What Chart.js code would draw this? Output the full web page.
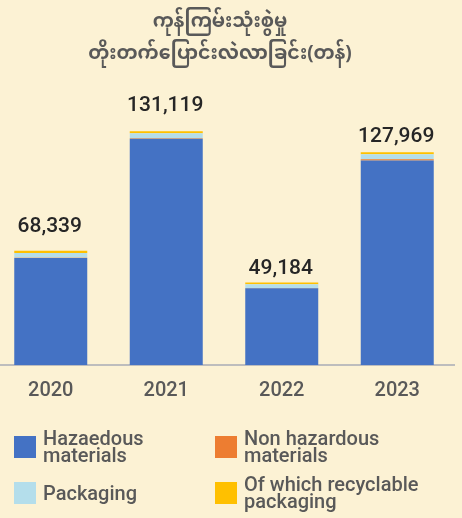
<!DOCTYPE html>
<html>
<head>
<meta charset="utf-8">
<script src="https://cdn.jsdelivr.net/npm/chart.js@4"></script>
<style>
  html, body { margin: 0; padding: 0; background: #FCF2D4; }
  #wrap { position: relative; width: 462px; height: 518px; overflow: hidden; background: #FCF2D4; }
  #c { position: absolute; left: -7px; top: 0; }
  #title { position: absolute; left: 0; width: 440px; top: 7px; text-align: center;
    font-family: "Noto Sans Myanmar", "Padauk", "Myanmar Text", "Noto Sans", sans-serif;
    font-size: 19px; font-weight: bold; color: #595959; line-height: 32px; }
  .item { position: absolute; display: flex; align-items: center; transform: translateY(-50%);
    font-family: Roboto, "Noto Sans", sans-serif; font-size: 20px; font-weight: 500; color: #595959; line-height: 17px; }
  .box { width: 22px; height: 22px; flex: none; margin-right: 7px; }
</style>
</head>
<body>
<div id="wrap">
  <canvas id="c" width="462" height="518"></canvas>
  <div id="title"></div>
  <div id="legend"></div>
</div>
<script>
const titleLines = ['ကုန်ကြမ်းသုံးစွဲမှု', 'တိုးတက်ပြောင်းလဲလာခြင်း(တန်)'];
const years = ['2020', '2021', '2022', '2023'];
const seriesNames = ['Hazaedous materials', 'Non hazardous materials', 'Packaging', 'Of which recyclable packaging'];
const hazardous = [64100, 135500, 46000, 122400];
const nonHazardous = [100, 200, 100, 700];
const packaging = [2900, 3000, 2300, 3000];
const recyclable = [1239, 1200, 1000, 1200];
const totals = [68339, 131119, 49184, 127969];

const colors = ['#4472C4', '#ED7D31', '#B4DEEB', '#FFC000'];
const labelGaps = [19, 20, 8, 10];

document.getElementById('title').innerHTML = titleLines.join('<br>');

const legendPos = [
  { left: 14, cy: 447, w: 120 },
  { left: 215, cy: 447, w: 200 },
  { left: 14, cy: 493, w: 120 },
  { left: 215, cy: 493, w: 200 }
];
const legend = document.getElementById('legend');
seriesNames.forEach((name, i) => {
  const p = legendPos[i];
  const d = document.createElement('div');
  d.className = 'item';
  d.style.left = p.left + 'px';
  d.style.top = p.cy + 'px';
  d.innerHTML = '<div class="box" style="background:' + colors[i] + '"></div><div style="max-width:' + p.w + 'px">' + name + '</div>';
  legend.appendChild(d);
});

const totalLabels = {
  id: 'totalLabels',
  afterDatasetsDraw(chart) {
    const ctx = chart.ctx;
    const meta = chart.getDatasetMeta(chart.data.datasets.length - 1);
    ctx.save();
    ctx.font = '500 21px Roboto, "Noto Sans", sans-serif';
    ctx.fillStyle = '#262626';
    ctx.textAlign = 'center';
    ctx.textBaseline = 'alphabetic';
    meta.data.forEach((el, i) => {
      ctx.fillText(totals[i].toLocaleString('en-US'), el.x - 1, el.y - labelGaps[i]);
    });
    ctx.restore();
  }
};

const ds = [hazardous, nonHazardous, packaging, recyclable].map((vals, i) => ({
  label: seriesNames[i],
  data: vals,
  backgroundColor: colors[i],
  borderWidth: 0,
  categoryPercentage: 1,
  barPercentage: 0.632
}));

new Chart(document.getElementById('c'), {
  type: 'bar',
  data: { labels: years, datasets: ds },
  options: {
    responsive: false,
    animation: false,
    layout: { padding: { top: 81, bottom: 101, left: 0, right: 0 } },
    plugins: { legend: { display: false }, title: { display: false }, tooltip: { enabled: false } },
    scales: {
      x: {
        stacked: true,
        z: 1,
        grid: { display: false, drawTicks: false },
        border: { display: true, color: '#BDBDBD', width: 2 },
        ticks: { color: '#595959', padding: 14, font: { family: 'Roboto, "Noto Sans", sans-serif', size: 20, weight: '500' } }
      },
      y: {
        stacked: true,
        display: false,
        min: 0,
        max: 170000
      }
    }
  },
  plugins: [totalLabels]
});
</script>
</body>
</html>
